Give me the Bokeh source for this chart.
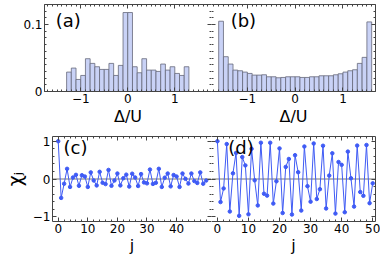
from bokeh.plotting import figure
from bokeh.layouts import column, row
from bokeh.models import Range1d, LinearAxis, FixedTicker, Label, Span
from bokeh.embed import file_html
from bokeh.resources import INLINE

# ---------------- data ----------------
a_edges = [-1.3, -1.2, -1.1, -1.0, -0.9, -0.8, -0.7, -0.6, -0.5, -0.4, -0.3, -0.2, -0.1,
           0.0, 0.1, 0.2, 0.3, 0.4, 0.5, 0.6, 0.7, 0.8, 0.9, 1.0, 1.1, 1.2, 1.3]
a_heights = [0.029, 0.035, 0.018, 0.024, 0.049, 0.042, 0.037, 0.033, 0.033, 0.042, 0.024, 0.039,
             0.118, 0.118, 0.037, 0.028, 0.049, 0.032, 0.032, 0.030, 0.041, 0.032, 0.037, 0.027,
             0.024, 0.037]

b_edges = [-1.6, -1.5, -1.4, -1.3, -1.2, -1.1, -1.0, -0.9, -0.8, -0.7, -0.6, -0.5, -0.4, -0.3,
           -0.2, -0.1, 0.0, 0.1, 0.2, 0.3, 0.4, 0.5, 0.6, 0.7, 0.8, 0.9, 1.0, 1.1, 1.2, 1.3,
           1.4, 1.5, 1.6]
b_heights = [0.105, 0.052, 0.041, 0.032, 0.031, 0.029, 0.027, 0.0245, 0.0245, 0.025, 0.022,
             0.022, 0.0205, 0.021, 0.022, 0.022, 0.022, 0.021, 0.021, 0.022, 0.022, 0.0235,
             0.0235, 0.0235, 0.025, 0.0265, 0.029, 0.031, 0.0325, 0.042, 0.051, 0.104]

j_sites = list(range(51))
c_values = [1.0, -0.5, -0.125, 0.27, -0.21, 0.04, 0.11, -0.18, 0.10, 0.065, -0.21, 0.175,
            -0.04, -0.17, 0.19, -0.10, -0.135, 0.24, -0.18, -0.04, 0.145, -0.17, 0.02, 0.115,
            -0.2, 0.14, 0.04, -0.185, 0.13, -0.09, -0.115, 0.25, -0.13, -0.10, 0.27, -0.21,
            0.035, 0.145, -0.195, 0.105, 0.065, -0.21, 0.145, 0.005, -0.12, 0.145, -0.055,
            -0.105, 0.175, -0.125, -0.04]
d_values = [1.0, -0.61, -0.25, 0.925, -0.86, 0.15, 0.69, -0.975, 0.58, 0.36, -0.935, 0.8,
            -0.035, -0.7, 0.96, -0.39, -0.44, 0.96, -0.65, -0.06, 0.81, -0.9, 0.32, 0.53,
            -0.94, 0.63, 0.18, -0.835, 0.86, -0.19, -0.6, 0.94, -0.53, -0.27, 0.88, -0.78,
            0.09, 0.68, -0.915, 0.45, 0.375, -0.88, 0.725, 0.02, -0.73, 0.885, -0.345, -0.445,
            0.9, -0.64, -0.115]

hist_yticks = [0, 0.1]
hist_xticks = [-1, 0, 1]
chi_yticks = [-1, 0, 1]
c_xticks = [0, 10, 20, 30, 40]
d_xticks = [0, 10, 20, 30, 40, 50]

# ---------------- styling ----------------
FONT = "DejaVu Sans"
FRAME = "#444444"
BAR_FILL = "#c9d2f6"
BAR_LINE = "#66687a"
LINE_BLUE = "#3f5bf5"
TICK_FS = "12px"
AXLAB_FS = "16px"


def frange(a, b, step):
    out = []
    k = 0
    while True:
        v = round(a + k * step, 6)
        if v > b + 1e-9:
            break
        out.append(v)
        k += 1
    return out


def labelled_axis(majors, minors, line=True):
    ax = LinearAxis(ticker=FixedTicker(ticks=majors, minor_ticks=minors))
    ax.major_tick_in = 4
    ax.major_tick_out = 0
    ax.minor_tick_in = 2
    ax.minor_tick_out = 0
    ax.axis_line_color = FRAME if line else None
    ax.major_tick_line_color = FRAME
    ax.minor_tick_line_color = FRAME
    ax.major_label_text_font = FONT
    ax.major_label_text_font_size = TICK_FS
    ax.major_label_text_color = "black"
    ax.major_label_standoff = 2
    ax.axis_label_text_font = FONT
    ax.axis_label_text_font_style = "normal"
    ax.axis_label_text_color = "black"
    return ax


def tick_only_axes(p, loc, majors, minors, line=True):
    # minor marks (and the frame line)
    ax1 = LinearAxis(ticker=FixedTicker(ticks=[], minor_ticks=minors))
    ax1.major_tick_in = 0
    ax1.major_tick_out = 0
    ax1.minor_tick_in = 2
    ax1.minor_tick_out = 0
    ax1.major_label_standoff = 0
    ax1.axis_line_color = FRAME if line else None
    ax1.minor_tick_line_color = FRAME
    p.add_layout(ax1, loc)
    # major marks (longer)
    ax2 = LinearAxis(ticker=FixedTicker(ticks=[], minor_ticks=majors))
    ax2.major_tick_in = 0
    ax2.major_tick_out = 0
    ax2.minor_tick_in = 4
    ax2.minor_tick_out = 0
    ax2.major_label_standoff = 0
    ax2.axis_line_color = None
    ax2.minor_tick_line_color = FRAME
    p.add_layout(ax2, loc)


def make_fig(w, h, xr, yr, borders, xt, xminor, yt, yminor, ylabels, ylabel_over=None):
    p = figure(width=w, height=h, x_range=Range1d(*xr), y_range=Range1d(*yr),
               output_backend="svg", toolbar_location=None,
               x_axis_location=None, y_axis_location=None,
               min_border_left=borders[0], min_border_right=borders[1],
               min_border_top=borders[2], min_border_bottom=borders[3])
    p.outline_line_color = None
    p.grid.visible = False
    p.background_fill_color = "white"
    p.border_fill_color = "white"

    below = labelled_axis(xt, xminor)
    p.add_layout(below, "below")
    tick_only_axes(p, "above", xt, xminor)
    left = None
    if ylabels:
        left = labelled_axis(yt, yminor)
        if ylabel_over:
            left.major_label_overrides = ylabel_over
        p.add_layout(left, "left")
    else:
        tick_only_axes(p, "left", yt, yminor, line=False)
    tick_only_axes(p, "right", yt, yminor)
    return p, below, left


def panel_label(p, x, y, text, baseline="middle"):
    lab = Label(x=x, y=y, text=text, text_font=FONT, text_font_size="18px",
                text_align="left", text_baseline=baseline, text_color="black")
    p.add_layout(lab)


hist_xminor = frange(-1.7, 1.7, 0.1)
hist_yminor = frange(0.0, 0.13, 0.01)
chi_yminor = frange(-1.0, 1.0, 0.2)
chi_xminor = frange(0, 50, 2)

LW, RW = 211, 169
TH, BH = 128, 129

# (a)
pa, pa_below, pa_left = make_fig(LW, TH, (-1.77, 1.78), (0, 0.13), (44, 0, 4, 36),
                                 hist_xticks, hist_xminor, hist_yticks, hist_yminor, True,
                                 ylabel_over={0: "0", 0.1: "0.1"})
pa.quad(left=a_edges[:-1], right=a_edges[1:], top=a_heights, bottom=0,
        fill_color=BAR_FILL, line_color=BAR_LINE, line_width=0.8)
pa_below.axis_label = "Δ/U"
pa_below.axis_label_text_font_size = AXLAB_FS
pa_below.axis_label_standoff = 1
panel_label(pa, -1.53, 0.106, "(a)")

# (b)
pb, pb_below, _ = make_fig(RW, TH, (-1.75, 1.68), (0, 0.13), (0, 5, 4, 36),
                           hist_xticks, hist_xminor, hist_yticks, hist_yminor, False)
pb.quad(left=b_edges[:-1], right=b_edges[1:], top=b_heights, bottom=0,
        fill_color=BAR_FILL, line_color=BAR_LINE, line_width=0.8)
pb_below.axis_label = "Δ/U"
pb_below.axis_label_text_font_size = AXLAB_FS
pb_below.axis_label_standoff = 1
panel_label(pb, -1.35, 0.106, "(b)")

# (c)
pc, pc_below, pc_left = make_fig(LW, BH, (-1.93, 51.8), (-1.125, 1.125), (44, 0, 8, 35),
                                 c_xticks, chi_xminor, chi_yticks, chi_yminor, True)
pc.add_layout(Span(location=0, dimension="width", line_color="#777777", line_width=1,
                   level="underlay"))
pc.line(j_sites, c_values, line_color=LINE_BLUE, line_width=1)
pc.scatter(j_sites, c_values, size=3.5, marker="circle", fill_color=LINE_BLUE,
           line_color=LINE_BLUE)
pc_below.axis_label = "j"
pc_below.axis_label_text_font_size = AXLAB_FS
pc_below.axis_label_standoff = 0
pc_left.axis_label = "χⱼ"
pc_left.axis_label_text_font_size = "19px"
pc_left.axis_label_standoff = 4
panel_label(pc, 1.8, 1.10, "(c)", baseline="top")

# (d)
pd_, pd_below, _ = make_fig(RW, BH, (-1.9, 50.9), (-1.125, 1.125), (0, 5, 8, 35),
                            d_xticks, chi_xminor, chi_yticks, chi_yminor, False)
pd_.add_layout(Span(location=0, dimension="width", line_color="#777777", line_width=1,
                    level="underlay"))
pd_.line(j_sites, d_values, line_color=LINE_BLUE, line_width=1)
pd_.scatter(j_sites, d_values, size=3.5, marker="circle", fill_color=LINE_BLUE,
            line_color=LINE_BLUE)
pd_below.axis_label = "j"
pd_below.axis_label_text_font_size = AXLAB_FS
pd_below.axis_label_standoff = 0
panel_label(pd_, 3.5, 1.10, "(d)", baseline="top")

layout = column(row(pa, pb), row(pc, pd_))

open("out.html", "w").write(file_html(layout, INLINE))
